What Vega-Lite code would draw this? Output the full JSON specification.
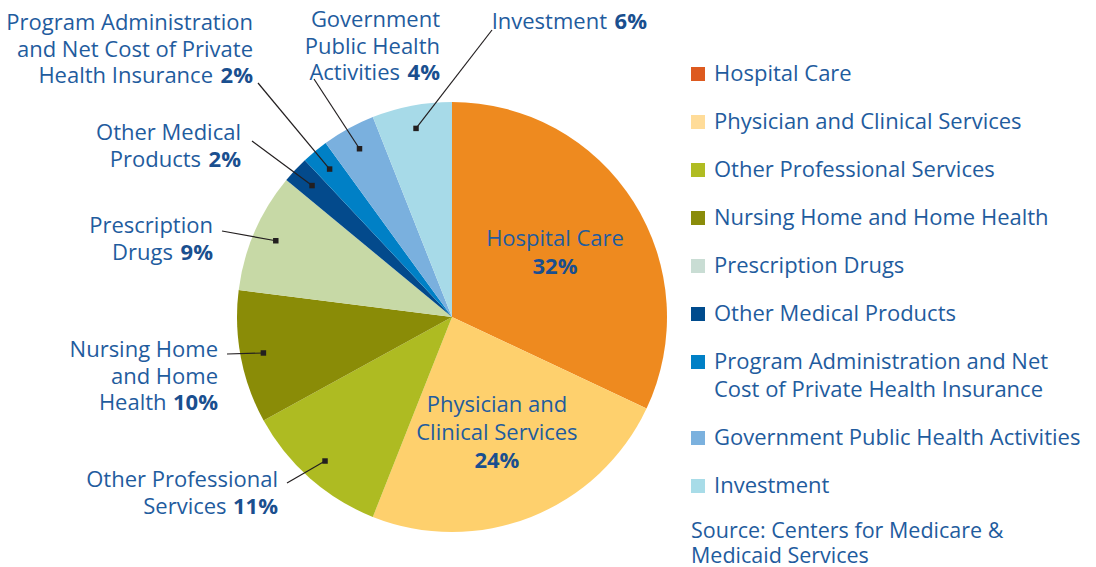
{
  "$schema": "https://vega.github.io/schema/vega-lite/v6.json",
  "width": 1096,
  "height": 567,
  "autosize": {"type": "none"},
  "padding": 0,
  "background": "white",
  "config": {"view": {"stroke": null}, "font": "Open Sans"},
  "title": {
    "text": ["Source: Centers for Medicare &", "Medicaid Services"],
    "orient": "bottom",
    "anchor": "start",
    "frame": "group",
    "align": "left",
    "dx": 691,
    "dy": -46,
    "offset": 0,
    "font": "Open Sans",
    "fontSize": 21.5,
    "fontWeight": "normal",
    "color": "#1F5C9E",
    "lineHeight": 24.5
  },
  "data": {
    "values": [
      {"category": "Hospital Care", "value": 32, "label": "Hospital Care"},
      {"category": "Physician and Clinical Services", "value": 24, "label": "Physician and|Clinical Services"},
      {"category": "Other Professional Services", "value": 11, "label": "Other Professional|Services"},
      {"category": "Nursing Home and Home Health", "value": 10, "label": "Nursing Home|and Home|Health"},
      {"category": "Prescription Drugs", "value": 9, "label": "Prescription|Drugs"},
      {"category": "Other Medical Products", "value": 2, "label": "Other Medical|Products"},
      {"category": "Program Administration and Net Cost of Private Health Insurance", "value": 2, "label": "Program Administration|and Net Cost of Private|Health Insurance"},
      {"category": "Government Public Health Activities", "value": 4, "label": "Government|Public Health|Activities"},
      {"category": "Investment", "value": 6, "label": "Investment"}
    ]
  },
  "transform": [
    {"window": [{"op": "row_number", "as": "rank"}, {"op": "sum", "field": "value", "as": "cum"}]},
    {"joinaggregate": [{"op": "sum", "field": "value", "as": "total"}]},
    {"calculate": "datum.value + '%'", "as": "pct"},
    {"calculate": "(datum.cum - datum.value / 2) / datum.total * 2 * PI", "as": "mid"},
    {"calculate": "192 * sin(datum.mid)", "as": "dotx"},
    {"calculate": "192 * cos(datum.mid)", "as": "doty"},
    {"calculate": "[0, 0, -174, -234, -239, -211, -199, -12, 195][datum.rank - 1]", "as": "lx"},
    {"calculate": "[0, 0, -170, -40, 84, 177, 287, 290, 288][datum.rank - 1]", "as": "ly"},
    {"calculate": "[0, 0, -165, -225, -230, -200, -194, -138, 40][datum.rank - 1]", "as": "ex"},
    {"calculate": "[0, 0, -166, -37, 86, 176, 234, 238, 287][datum.rank - 1]", "as": "ey"},
    {"calculate": "split(datum.label + pad('', 2 * length(datum.pct) + 3, '\u00a0') + '\u200b', '|')", "as": "normalOut"},
    {"calculate": "split(replace(datum.label, regexp('[^|]+', 'g'), '\u200b') + datum.pct, '|')", "as": "boldOut"},
    {"calculate": "split(datum.label + '|\u200b', '|')", "as": "normalIn"},
    {"calculate": "split(replace(datum.label, regexp('[^|]+', 'g'), '\u200b') + '|' + datum.pct, '|')", "as": "boldIn"},
    {"calculate": "122 * sin(datum.mid)", "as": "inx"},
    {"calculate": "122 * cos(datum.mid) + (length(datum.normalIn) - 1) * 12.5", "as": "iny"}
  ],
  "layer": [
    {
      "mark": {"type": "arc", "outerRadius": 1},
      "encoding": {
        "theta": {"field": "value", "type": "quantitative", "stack": true},
        "order": {"field": "rank", "type": "quantitative"},
        "x": {"datum": 0, "type": "quantitative", "scale": {"domain": [-452, 644], "nice": false, "zero": false}, "axis": null},
        "y": {"datum": 0, "type": "quantitative", "scale": {"domain": [-250, 317], "nice": false, "zero": false}, "axis": null},
        "color": {
          "field": "category",
          "type": "nominal",
          "scale": {
            "domain": ["Hospital Care", "Physician and Clinical Services", "Other Professional Services", "Nursing Home and Home Health", "Prescription Drugs", "Other Medical Products", "Program Administration and Net Cost of Private Health Insurance", "Government Public Health Activities", "Investment"],
            "range": ["#DD5A1F", "#FFDC99", "#B0BC22", "#8A8C0A", "#C9DDD4", "#004B8D", "#0080C6", "#7BB1DE", "#A8DCE8"]
          },
          "legend": {
            "orient": "none",
            "legendX": 687,
            "legendY": 63,
            "title": null,
            "padding": 0,
            "symbolType": "square",
            "symbolSize": 196,
            "symbolStrokeWidth": 0,
            "symbolOpacity": 1,
            "labelFont": "Open Sans",
            "labelFontSize": 22,
            "labelColor": "#1F5C9E",
            "labelLimit": 600,
            "labelOffset": 5,
            "rowPadding": 26,
            "labelExpr": "datum.label === 'Program Administration and Net Cost of Private Health Insurance' ? ['Program Administration and Net', 'Cost of Private Health Insurance'] : datum.label",
            "encode": {"labels": {"update": {"lineHeight": {"value": 28}}}}
          }
        }
      }
    },
    {
      "mark": {"type": "arc", "outerRadius": 215},
      "encoding": {
        "theta": {"field": "value", "type": "quantitative", "stack": true},
        "order": {"field": "rank", "type": "quantitative"},
        "x": {"datum": 0, "type": "quantitative", "scale": {"domain": [-452, 644], "nice": false, "zero": false}, "axis": null},
        "y": {"datum": 0, "type": "quantitative", "scale": {"domain": [-250, 317], "nice": false, "zero": false}, "axis": null},
        "color": {
          "field": "category",
          "type": "nominal",
          "scale": {
            "domain": ["Hospital Care", "Physician and Clinical Services", "Other Professional Services", "Nursing Home and Home Health", "Prescription Drugs", "Other Medical Products", "Program Administration and Net Cost of Private Health Insurance", "Government Public Health Activities", "Investment"],
            "range": ["#EE8A1F", "#FED06D", "#AEBB22", "#8A8C07", "#C7D9A6", "#034A8C", "#0080C6", "#7AB0DE", "#A7DAE8"]
          },
          "legend": null
        }
      }
    },
    {
      "transform": [{"filter": "datum.value < 20"}],
      "mark": {"type": "rule", "color": "#231F20", "strokeWidth": 1.2},
      "encoding": {
        "x": {"field": "dotx", "type": "quantitative", "scale": {"domain": [-452, 644], "nice": false, "zero": false}, "axis": null},
        "y": {"field": "doty", "type": "quantitative", "scale": {"domain": [-250, 317], "nice": false, "zero": false}, "axis": null},
        "x2": {"field": "ex"},
        "y2": {"field": "ey"}
      }
    },
    {
      "transform": [{"filter": "datum.value < 20"}],
      "mark": {"type": "point", "shape": "square", "filled": true, "size": 30, "color": "#231F20", "opacity": 1},
      "encoding": {
        "x": {"field": "dotx", "type": "quantitative", "scale": {"domain": [-452, 644], "nice": false, "zero": false}, "axis": null},
        "y": {"field": "doty", "type": "quantitative", "scale": {"domain": [-250, 317], "nice": false, "zero": false}, "axis": null}
      }
    },
    {
      "transform": [{"filter": "datum.value < 20"}],
      "mark": {"type": "text", "align": "right", "baseline": "alphabetic", "font": "Open Sans", "fontSize": 22, "lineHeight": 26.5, "color": "#1F5C9E"},
      "encoding": {
        "x": {"field": "lx", "type": "quantitative", "scale": {"domain": [-452, 644], "nice": false, "zero": false}, "axis": null},
        "y": {"field": "ly", "type": "quantitative", "scale": {"domain": [-250, 317], "nice": false, "zero": false}, "axis": null},
        "text": {"field": "normalOut"}
      }
    },
    {
      "transform": [{"filter": "datum.value < 20"}],
      "mark": {"type": "text", "align": "right", "baseline": "alphabetic", "font": "Open Sans", "fontSize": 22, "fontWeight": "bold", "lineHeight": 26.5, "color": "#1A4F8F"},
      "encoding": {
        "x": {"field": "lx", "type": "quantitative", "scale": {"domain": [-452, 644], "nice": false, "zero": false}, "axis": null},
        "y": {"field": "ly", "type": "quantitative", "scale": {"domain": [-250, 317], "nice": false, "zero": false}, "axis": null},
        "text": {"field": "boldOut"}
      }
    },
    {
      "transform": [{"filter": "datum.value >= 20"}],
      "mark": {"type": "text", "align": "center", "baseline": "middle", "font": "Open Sans", "fontSize": 22, "lineHeight": 28, "color": "#1F5C9E"},
      "encoding": {
        "x": {"field": "inx", "type": "quantitative", "scale": {"domain": [-452, 644], "nice": false, "zero": false}, "axis": null},
        "y": {"field": "iny", "type": "quantitative", "scale": {"domain": [-250, 317], "nice": false, "zero": false}, "axis": null},
        "text": {"field": "normalIn"}
      }
    },
    {
      "transform": [{"filter": "datum.value >= 20"}],
      "mark": {"type": "text", "align": "center", "baseline": "middle", "font": "Open Sans", "fontSize": 22, "fontWeight": "bold", "lineHeight": 28, "color": "#1A4F8F"},
      "encoding": {
        "x": {"field": "inx", "type": "quantitative", "scale": {"domain": [-452, 644], "nice": false, "zero": false}, "axis": null},
        "y": {"field": "iny", "type": "quantitative", "scale": {"domain": [-250, 317], "nice": false, "zero": false}, "axis": null},
        "text": {"field": "boldIn"}
      }
    }
  ],
  "resolve": {"scale": {"color": "independent"}}
}
